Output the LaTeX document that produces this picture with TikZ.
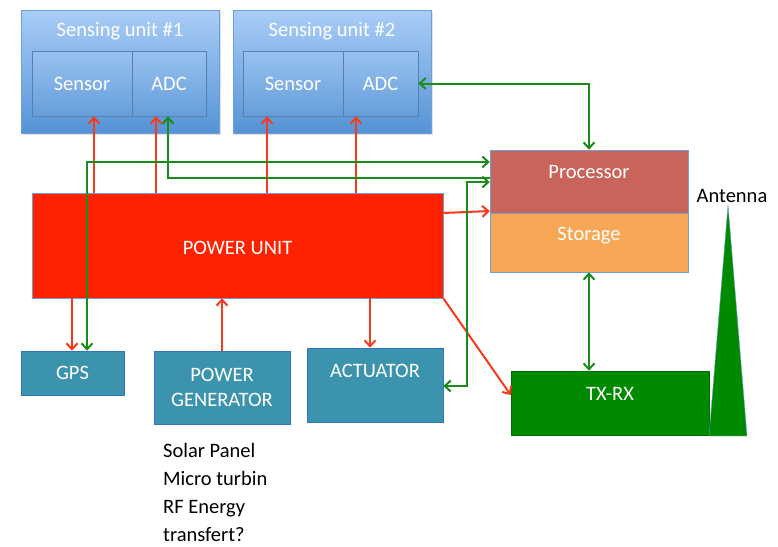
\documentclass[tikz,border=0pt]{standalone}
\usepackage{fontspec}
\setmainfont{Carlito}
\usetikzlibrary{arrows.meta,shadows}
\definecolor{redarr}{HTML}{F53A1E}
\definecolor{grnarr}{HTML}{1A8C1A}
\definecolor{pured}{HTML}{FF2200}
\definecolor{teal}{HTML}{3C93AD}
\definecolor{proc}{HTML}{C8645A}
\definecolor{stor}{HTML}{F7A856}
\definecolor{txrx}{HTML}{008A00}
\definecolor{bluetop}{HTML}{A9CDF7}
\definecolor{bluebot}{HTML}{5593D6}
\definecolor{blueedge}{HTML}{6E9FD3}
\tikzset{
  fnt/.style={font=\fontsize{20.5}{23}\selectfont},
  sunit/.style={draw=blueedge, line width=0.6pt, top color=bluetop, bottom color=bluebot, inner sep=0pt,
    drop shadow={opacity=0.25, shadow xshift=1.5pt, shadow yshift=-1.5pt}},
  subox/.style={draw=blueedge!80!black, line width=0.6pt, top color=bluetop!80!bluebot, bottom color=bluebot!90!white, inner sep=0pt,
    text=white, fnt,
    drop shadow={opacity=0.2, shadow xshift=1pt, shadow yshift=-1pt}},
  tbox/.style={draw=teal!80!blue, line width=0.5pt, fill=teal, inner sep=0pt, text=white, align=center, fnt,
    drop shadow={opacity=0.2, shadow xshift=1pt, shadow yshift=-1pt}},
  fbox/.style={draw=blueedge, line width=0.5pt, inner sep=0pt},
  wtext/.style={text=white, fnt, inner sep=0pt},
  ra/.style={draw=redarr, line width=2pt, -{Straight Barb[length=6pt,width=11pt]}},
  ga/.style={draw=grnarr, line width=2pt, -{Straight Barb[length=6pt,width=11pt]}},
  gaa/.style={draw=grnarr, line width=2pt, {Straight Barb[length=6pt,width=11pt]}-{Straight Barb[length=6pt,width=11pt]}},
}
\begin{document}
\begin{tikzpicture}[x=1pt,y=-1pt]
\useasboundingbox (0,0) rectangle (778,546);
% sensing units
\node[sunit, minimum width=198pt, minimum height=123pt] (su1) at (120,71.5) {};
\node[wtext] (su1t) at (120,31) {Sensing unit \#1};
\node[subox, minimum width=100pt, minimum height=65pt] (sen1) at (82,83.5) {Sensor};
\node[subox, minimum width=74pt, minimum height=65pt] (adc1) at (169,83.5) {ADC};
\node[sunit, minimum width=198pt, minimum height=123pt] (su2) at (332,71.5) {};
\node[wtext] (su2t) at (332,31) {Sensing unit \#2};
\node[subox, minimum width=100pt, minimum height=65pt] (sen2) at (293,83.5) {Sensor};
\node[subox, minimum width=75pt, minimum height=65pt] (adc2) at (380.5,83.5) {ADC};
% power unit
\node[draw=blueedge, line width=0.5pt, fill=pured, minimum width=411pt, minimum height=105pt, inner sep=0pt, text=white, fnt] (pu) at (237.5,245.5) {};
\node[wtext] (put) at (237.5,248) {POWER UNIT};
% processor and storage
\node[fbox, fill=proc, minimum width=198pt, minimum height=63pt] (proc) at (589,181.5) {};
\node[wtext] (proct) at (589,172) {Processor};
\node[fbox, fill=stor, minimum width=198pt, minimum height=59pt] (stor) at (589,242.5) {};
\node[wtext] (stort) at (589,236) {Storage};
% bottom boxes
\node[tbox, minimum width=103pt, minimum height=44pt] (gps) at (72.5,373) {GPS};
\node[tbox, minimum width=136pt, minimum height=73pt] (pg) at (222,387.5) {POWER\\[2pt]GENERATOR};
\node[tbox, minimum width=136pt, minimum height=74pt] (act) at (375,385) {};
\node[wtext] (actt) at (375,371) {ACTUATOR};
\node[draw=txrx!80!black, line width=0.5pt, fill=txrx, minimum width=198pt, minimum height=64pt, inner sep=0pt] (tx) at (610,403) {};
\node[wtext] (txt) at (610,394) {TX-RX};
% antenna
\coordinate (antapex) at (728,205);
\coordinate (antl) at (709,436);
\coordinate (antr) at (747,436);
\filldraw[fill=txrx, draw=blueedge, line width=0.4pt] (antapex) -- (antr) -- (antl) -- cycle;
\node[fnt, inner sep=0pt] (antt) at (732,196) {Antenna};
% note text
\node[font=\fontsize{20.5}{28}\selectfont, align=left, anchor=north west, inner sep=0pt] (note) at (163,443) {Solar Panel\\Micro turbin\\RF Energy\\transfert?};
% red arrows from power unit
\draw[ra] (pu.north -| 94,0) -- (sen1.south -| 94,0);
\draw[ra] (pu.north -| 156,0) -- (adc1.south -| 156,0);
\draw[ra] (pu.north -| 267,0) -- (sen2.south -| 267,0);
\draw[ra] (pu.north -| 356,0) -- (adc2.south -| 356,0);
\draw[ra] (pu.south -| 72,0) -- (gps.north -| 72,0);
\draw[ra] (pg.north) -- (pu.south -| pg.north);
\draw[ra] (pu.south -| 370,0) -- (act.north -| 370,0);
\draw[ra] (pu.south east) -- (tx.west |- 0,395);
\draw[ra] (pu.east |- 0,213) -- (proc.west |- 0,211);
% green connectors
\draw[ga] (proc.west |- 0,178) -| (adc1.south -| 168,0);
\draw[gaa] (gps.north -| 87,0) |- (proc.west |- 0,162);
\draw[gaa] (act.east |- 0,386) -| (467,182) -- (proc.west |- 0,182);
\draw[gaa] (adc2.east) -| (proc.north);
\draw[gaa] (stor.south) -- (tx.north -| stor.south);
\end{tikzpicture}
\end{document}
